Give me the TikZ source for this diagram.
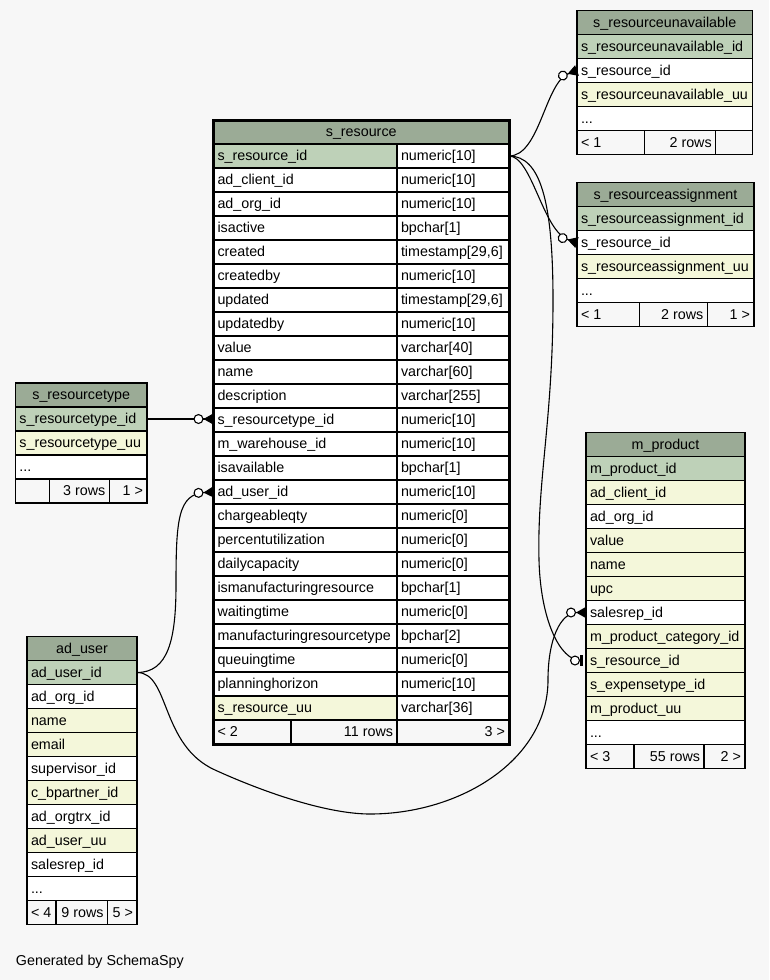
\documentclass[tikz,border=0pt]{standalone}
\usepackage{fontspec}
\setmainfont{Liberation Sans}
\usetikzlibrary{arrows.meta}
\definecolor{bg}{HTML}{F7F7F7}
\definecolor{hdr}{HTML}{9BAB96}
\definecolor{pk}{HTML}{BED1B8}
\definecolor{idx}{HTML}{F4F7DA}
\definecolor{wht}{HTML}{FFFFFF}
\definecolor{ftr}{HTML}{F7F7F7}
\newcommand\tbfont{\fontsize{14.3pt}{16pt}\selectfont}
\newcommand\ddd{...}
\tikzset{
  cell/.style={draw=black, line width=1.2pt, minimum height=24pt, inner sep=0pt, outer sep=0pt, anchor=north west},
  txt/.style={inner sep=0pt, outer sep=0pt, text height=11pt, text depth=2pt, font=\tbfont},
  rel/.style={draw=black, line width=1.1pt, -{Circle[length=10pt,fill=white] Triangle[reversed,length=10pt,width=11pt]}},
  relone/.style={draw=black, line width=1.1pt, shorten >=3pt, -{Circle[length=10pt,fill=white] Bar[width=11pt,line width=3pt]}},
}
\newcommand\cel[6]{\node[cell,fill=#5,minimum width=#4pt] (#1) at (#2,#3) {};\node[txt,anchor=west] at ([xshift=4pt]#1.west) {#6};}
\newcommand\celr[6]{\node[cell,fill=#5,minimum width=#4pt] (#1) at (#2,#3) {};\node[txt,anchor=east] at ([xshift=-4pt]#1.east) {#6};}
\newcommand\celc[6]{\node[cell,fill=#5,minimum width=#4pt] (#1) at (#2,#3) {};\node[txt] at (#1.center) {#6};}
\begin{document}
\begin{tikzpicture}[x=1pt,y=-1pt]
\useasboundingbox (0,0) rectangle (769,980);
\fill[bg] (0,0) rectangle (769,980);

% ---------- s_resourceunavailable
\celc{u0}{577}{10.5}{175.5}{hdr}{s\_resourceunavailable}
\foreach \f/\t [count=\i] in {pk/s\_resourceunavailable\_id, wht/s\_resource\_id, idx/s\_resourceunavailable\_uu, wht/\ddd}
  {\cel{u\i}{577}{10.5+24*\i}{175.5}{\f}{\t}}
\cel{uf1}{577}{130.5}{67.7}{ftr}{< 1}
\celr{uf2}{644.7}{130.5}{71}{ftr}{2 rows}
\celr{uf3}{715.7}{130.5}{36.8}{ftr}{}

% ---------- s_resourceassignment
\celc{a0}{577}{182.5}{177}{hdr}{s\_resourceassignment}
\foreach \f/\t [count=\i] in {pk/s\_resourceassignment\_id, wht/s\_resource\_id, idx/s\_resourceassignment\_uu, wht/\ddd}
  {\cel{a\i}{577}{182.5+24*\i}{177}{\f}{\t}}
\cel{af1}{577}{302.5}{62.3}{ftr}{< 1}
\celr{af2}{639.3}{302.5}{68}{ftr}{2 rows}
\celr{af3}{707.3}{302.5}{46.7}{ftr}{1 >}

% ---------- s_resourcetype
\celc{t0}{15.5}{383}{131.5}{hdr}{s\_resourcetype}
\foreach \f/\t [count=\i] in {pk/s\_resourcetype\_id, idx/s\_resourcetype\_uu, wht/\ddd}
  {\cel{t\i}{15.5}{383+24*\i}{131.5}{\f}{\t}}
\cel{tf1}{15.5}{479}{33.8}{ftr}{}
\celr{tf2}{49.3}{479}{60}{ftr}{3 rows}
\celr{tf3}{109.3}{479}{37.7}{ftr}{1 >}

% ---------- m_product
\celc{m0}{586}{432.5}{159}{hdr}{m\_product}
\foreach \f/\t [count=\i] in {pk/m\_product\_id, idx/ad\_client\_id, wht/ad\_org\_id, idx/value, idx/name, idx/upc, wht/salesrep\_id, idx/m\_product\_category\_id, idx/s\_resource\_id, idx/s\_expensetype\_id, idx/m\_product\_uu, wht/\ddd}
  {\cel{m\i}{586}{432.5+24*\i}{159}{\f}{\t}}
\cel{mf1}{586}{744.5}{48}{ftr}{< 3}
\celr{mf2}{634}{744.5}{70}{ftr}{55 rows}
\celr{mf3}{704}{744.5}{41}{ftr}{2 >}

% ---------- ad_user
\celc{d0}{27}{636.5}{110}{hdr}{ad\_user}
\foreach \f/\t [count=\i] in {pk/ad\_user\_id, wht/ad\_org\_id, idx/name, idx/email, wht/supervisor\_id, idx/c\_bpartner\_id, wht/ad\_orgtrx\_id, idx/ad\_user\_uu, wht/salesrep\_id, wht/\ddd}
  {\cel{d\i}{27}{636.5+24*\i}{110}{\f}{\t}}
\cel{df1}{27}{900.5}{29}{ftr}{< 4}
\celr{df2}{56}{900.5}{51.5}{ftr}{9 rows}
\celr{df3}{107.5}{900.5}{29.5}{ftr}{5 >}

% ---------- s_resource
\celc{r0}{213.5}{120}{295.5}{hdr}{s\_resource}
\foreach \f/\t/\ty [count=\i] in {pk/s\_resource\_id/numeric[10], wht/ad\_client\_id/numeric[10], wht/ad\_org\_id/numeric[10], wht/isactive/bpchar[1], {wht/created/timestamp[29,6]}, wht/createdby/numeric[10], {wht/updated/timestamp[29,6]}, wht/updatedby/numeric[10], wht/value/varchar[40], wht/name/varchar[60], wht/description/varchar[255], wht/s\_resourcetype\_id/numeric[10], wht/m\_warehouse\_id/numeric[10], wht/isavailable/bpchar[1], wht/ad\_user\_id/numeric[10], wht/chargeableqty/numeric[0], wht/percentutilization/numeric[0], wht/dailycapacity/numeric[0], wht/ismanufacturingresource/bpchar[1], wht/waitingtime/numeric[0], wht/manufacturingresourcetype/bpchar[2], wht/queuingtime/numeric[0], wht/planninghorizon/numeric[10], idx/s\_resource\_uu/varchar[36]}
  {\cel{r\i}{213.5}{120+24*\i}{183.5}{\f}{\t}
   \cel{rt\i}{397}{120+24*\i}{112}{wht}{\ty}}
\cel{rf1}{213.5}{720}{77.5}{ftr}{< 2}
\celr{rf2}{291}{720}{106}{ftr}{11 rows}
\celr{rf3}{397}{720}{112}{ftr}{3 >}
\draw[line width=3pt] (r0.north west) rectangle (rf3.south east);

% ---------- connectors
\draw[rel] (rt1.east) .. controls (540,156) and (545,82) .. (u2.west);
\draw[rel] (rt1.east) .. controls (532,156) and (543,232) .. (a2.west);
\coordinate (w1) at (553,300);
\coordinate (w2) at (539,560);
\draw[relone] (rt1.east) .. controls (540,156) and (553,200) .. (w1)
   .. controls (553,420) and (537,480) .. (w2)
   .. controls (540.5,620) and (560,660.5) .. (m9.west);
\draw[rel] (t1.east) -- (t1.east -| r12.west);
\coordinate (w3) at (176,585);
\draw[rel] (d1.east) .. controls (168,672.5) and (176,640) .. (w3)
   .. controls (176,520) and (178,494) .. (r15.west);
\coordinate (w4) at (215,770);
\coordinate (w5) at (370,814);
\coordinate (w6) at (548,680);
\draw[rel] (d1.east) .. controls (170,672.5) and (160,745) .. (w4)
   .. controls (270,795) and (330,814) .. (w5)
   .. controls (460,814) and (548,760) .. (w6)
   .. controls (548,640) and (560,612.5) .. (m7.west);

\node[txt,anchor=base west] (gen) at (16,965) {Generated by SchemaSpy};
\end{tikzpicture}
\end{document}
